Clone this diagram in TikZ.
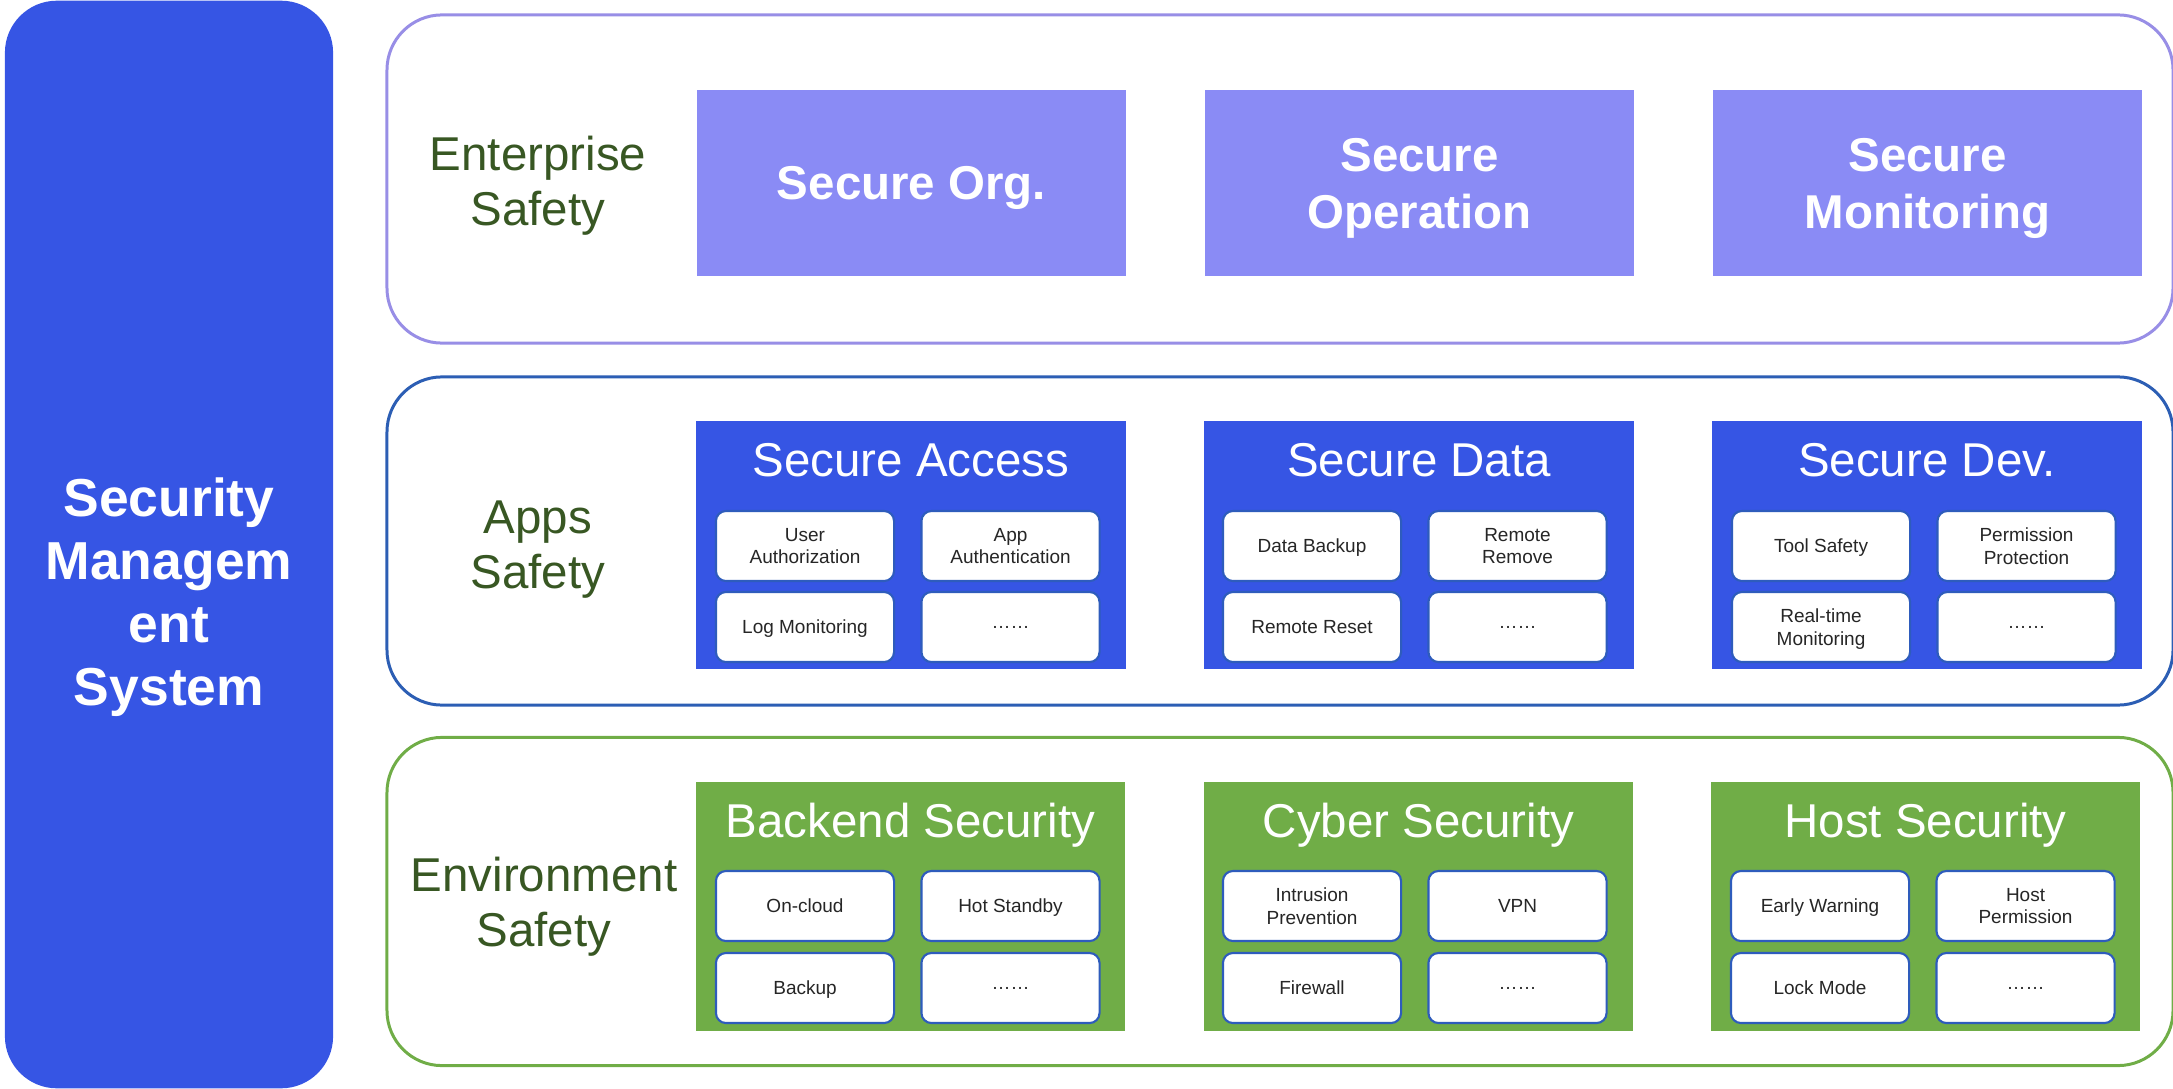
\documentclass[tikz,border=0pt]{standalone}
\usepackage{fontspec}
\setmainfont{Liberation Sans}

\definecolor{sysblue}{RGB}{54,85,228}
\definecolor{lavbox}{RGB}{138,139,245}
\definecolor{lavline}{RGB}{152,142,230}
\definecolor{appline}{RGB}{44,94,180}
\definecolor{envgreen}{RGB}{112,173,71}
\definecolor{itemline}{RGB}{46,92,188}
\definecolor{labelgreen}{RGB}{56,87,35}
\definecolor{itemtext}{RGB}{38,38,38}

\begin{document}
\begin{tikzpicture}[x=0.01cm, y=-0.01cm,
  layer/.style={draw, fill=white, line width=0.85pt, rounded corners=0.55cm,
    minimum width=17.85cm, minimum height=3.28cm, inner sep=0pt},
  layerlabel/.style={text=labelgreen, align=center, font=\fontsize{13.5}{15.6}\selectfont},
  topbox/.style={fill=lavbox, minimum width=4.29cm, minimum height=1.86cm, inner sep=0pt,
    text depth=0pt, text=white, align=center, font=\fontsize{13.5}{16.2}\selectfont\bfseries},
  groupbox/.style={minimum width=4.29cm, minimum height=2.48cm, inner sep=0pt},
  grouptitle/.style={anchor=base, text=white, font=\fontsize{13.5}{16}\selectfont},
  item/.style={draw=itemline, fill=white, line width=0.6pt, rounded corners=0.1cm,
    minimum width=1.78cm, minimum height=0.70cm, inner sep=0pt, text depth=0pt,
    align=center, text=itemtext, font=\fontsize{5.4}{6.5}\selectfont}]
  \useasboundingbox (0,0) rectangle (2173,1088);

  % left column
  \node[fill=sysblue, rounded corners=0.52cm, minimum width=3.28cm, minimum height=10.87cm,
    inner sep=0pt] (sysbar) at (169,544.5) {};
  \node[text=white, align=center, font=\fontsize{15.2}{17.9}\selectfont\bfseries]
    (systext) at (169,597) {Security\\Managem\\ent\\System};

  % the three layers
  \node[layer, draw=lavline] (entlayer) at (1280,179) {};
  \node[layer, draw=appline] (applayer) at (1280,541) {};
  \node[layer, draw=envgreen] (envlayer) at (1280,901.5) {};
  \node[layerlabel] (entlabel) at (538,186) {Enterprise\\Safety};
  \node[layerlabel] (applabel) at (538,550) {Apps\\Safety};
  \node[layerlabel] (envlabel) at (544,907) {Environment\\Safety};

  % enterprise safety
  \node[topbox] (org) at (911.5,183) {Secure Org.};
  \node[topbox] (oper) at (1419.5,183) {Secure\\Operation};
  \node[topbox] (monit) at (1927.5,183) {Secure\\Monitoring};

  % apps safety
  \node[groupbox, fill=sysblue] (access) at (911,545) {};
  \node[grouptitle] (accesstitle) at (911,476) {Secure Access};
  \node[item] (access1) at (805,546) {User\\Authorization};
  \node[item] (access2) at (1010.5,546) {App\\Authentication};
  \node[item] (access3) at (805,627) {Log Monitoring};
  \node[item] (access4) at (1010.5,627) {……};

  \node[groupbox, fill=sysblue] (data) at (1419,545) {};
  \node[grouptitle] (datatitle) at (1419,476) {Secure Data};
  \node[item] (data1) at (1312,546) {Data Backup};
  \node[item] (data2) at (1517.5,546) {Remote\\Remove};
  \node[item] (data3) at (1312,627) {Remote Reset};
  \node[item] (data4) at (1517.5,627) {……};

  \node[groupbox, fill=sysblue] (dev) at (1927,545) {};
  \node[grouptitle] (devtitle) at (1927,476) {Secure Dev.};
  \node[item] (dev1) at (1821,546) {Tool Safety};
  \node[item] (dev2) at (2026.5,546) {Permission\\Protection};
  \node[item] (dev3) at (1821,627) {Real-time\\Monitoring};
  \node[item] (dev4) at (2026.5,627) {……};

  % environment safety
  \node[groupbox, fill=envgreen] (backend) at (910.5,906.5) {};
  \node[grouptitle] (backendtitle) at (910.5,837) {Backend Security};
  \node[item] (backend1) at (805,906) {On-cloud};
  \node[item] (backend2) at (1010.5,906) {Hot Standby};
  \node[item] (backend3) at (805,988) {Backup};
  \node[item] (backend4) at (1010.5,988) {……};

  \node[groupbox, fill=envgreen] (cyber) at (1418.5,906.5) {};
  \node[grouptitle] (cybertitle) at (1418.5,837) {Cyber Security};
  \node[item] (cyber1) at (1312,906) {Intrusion\\Prevention};
  \node[item] (cyber2) at (1517.5,906) {VPN};
  \node[item] (cyber3) at (1312,988) {Firewall};
  \node[item] (cyber4) at (1517.5,988) {……};

  \node[groupbox, fill=envgreen] (host) at (1925.5,906.5) {};
  \node[grouptitle] (hosttitle) at (1925.5,837) {Host Security};
  \node[item] (host1) at (1820,906) {Early Warning};
  \node[item] (host2) at (2025.5,906) {Host\\Permission};
  \node[item] (host3) at (1820,988) {Lock Mode};
  \node[item] (host4) at (2025.5,988) {……};
\end{tikzpicture}
\end{document}
